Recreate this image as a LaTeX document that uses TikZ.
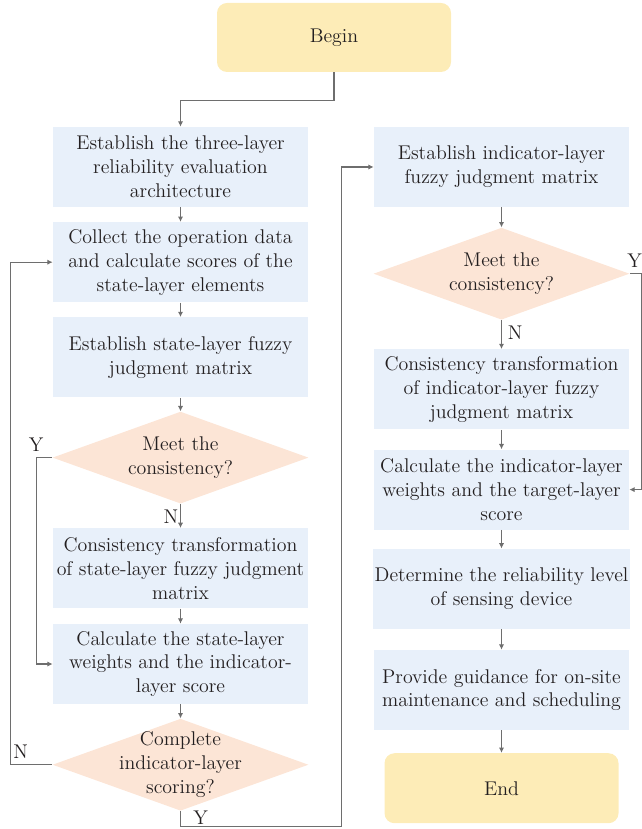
\documentclass[tikz,border=0pt]{standalone}
\usepackage{tikz}
\usetikzlibrary{positioning, shapes.geometric, arrows.meta}

\definecolor{stepblue}{RGB}{232,240,250}
\definecolor{termyellow}{RGB}{253,236,183}
\definecolor{askpeach}{RGB}{252,229,214}
\definecolor{flowgrey}{RGB}{110,110,110}
\definecolor{inkdark}{RGB}{35,31,32}

\begin{document}
\begin{tikzpicture}[
  font=\fontsize{11.3}{13.6}\selectfont, text=inkdark,
  stepbox/.style={rectangle, fill=stepblue, minimum width=5.1cm, minimum height=1.6cm, align=center, inner sep=1pt},
  terminal/.style={rectangle, rounded corners=0.2cm, fill=termyellow, minimum width=4.68cm, minimum height=1.4cm, align=center},
  decision/.style={diamond, fill=askpeach, aspect=2.78, minimum width=5.12cm, minimum height=1.84cm, inner sep=0pt},
  flow/.style={draw=flowgrey, line width=0.7pt, -{Latex[length=3pt,width=3pt]}}
]
  \useasboundingbox (0,0) rectangle (12.82,-16.58);

  \node[terminal, minimum height=1.38cm] (begin) at (6.68,-0.75) {Begin};

  % Left column
  \node[stepbox] (architecture) at (3.61,-3.34) {Establish the three-layer\\reliability evaluation\\architecture};
  \node[stepbox, below=0.29cm of architecture] (collect) {Collect the operation data\\and calculate scores of the\\state-layer elements};
  \node[stepbox, below=0.29cm of collect] (statematrix) {Establish state-layer fuzzy\\judgment matrix};
  \node[decision, below=0.27cm of statematrix, label={[align=center]center:Meet the\\consistency?}] (stateok) {};
  \node[stepbox, below=0.48cm of stateok] (statetransform) {Consistency transformation\\of state-layer fuzzy judgment\\matrix};
  \node[stepbox, below=0.3cm of statetransform] (stateweights) {Calculate the state-layer\\weights and the indicator-\\layer score};
  \node[decision, below=0.28cm of stateweights, label={[align=center]center:Complete\\indicator-layer\\scoring?}] (complete) {};

  % Right column
  \node[stepbox] (indmatrix) at (10.03,-3.34) {Establish indicator-layer\\fuzzy judgment matrix};
  \node[decision, below=0.4cm of indmatrix, label={[align=center]center:Meet the\\consistency?}] (indok) {};
  \node[stepbox, below=0.58cm of indok] (indtransform) {Consistency transformation\\of indicator-layer fuzzy\\judgment matrix};
  \node[stepbox, below=0.39cm of indtransform] (indweights) {Calculate the indicator-layer\\weights and the target-layer\\score};
  \node[stepbox, below=0.37cm of indweights] (level) {Determine the reliability level\\of sensing device};
  \node[stepbox, below=0.41cm of level] (guidance) {Provide guidance for on-site\\maintenance and scheduling};
  \node[terminal, below=0.45cm of guidance] (end) {End};

  % Flow lines
  \draw[flow] (begin.south) -- ++(0,-0.56) -| (architecture.north);
  \draw[flow] (architecture) -- (collect);
  \draw[flow] (collect) -- (statematrix);
  \draw[flow] (statematrix) -- (stateok);
  \draw[flow] (stateok) -- node[left, inner sep=1pt, pos=0.55] {N} (statetransform);
  \draw[flow] (statetransform) -- (stateweights);
  \draw[flow] (stateweights) -- (complete);
  \draw[flow] (stateok.west) -- ++(-0.32,0) node[above] {Y} |- (stateweights.west);
  \draw[flow] (complete.west) -- node[above, pos=0.75] {N} ++(-0.84,0) |- (collect.west);
  \draw[flow] (complete.south) -- ++(0,-0.31) node[above right, inner sep=1pt, xshift=6pt] {Y} -| ([xshift=-0.64cm]indmatrix.west) -- (indmatrix.west);

  \draw[flow] (indmatrix) -- (indok);
  \draw[flow] (indok) -- node[right, pos=0.45] {N} (indtransform);
  \draw[flow] (indok.east) -- node[above, pos=0.4] {Y} ++(0.24,0) |- (indweights.east);
  \draw[flow] (indtransform) -- (indweights);
  \draw[flow] (indweights) -- (level);
  \draw[flow] (level) -- (guidance);
  \draw[flow] (guidance) -- (end);
\end{tikzpicture}
\end{document}
